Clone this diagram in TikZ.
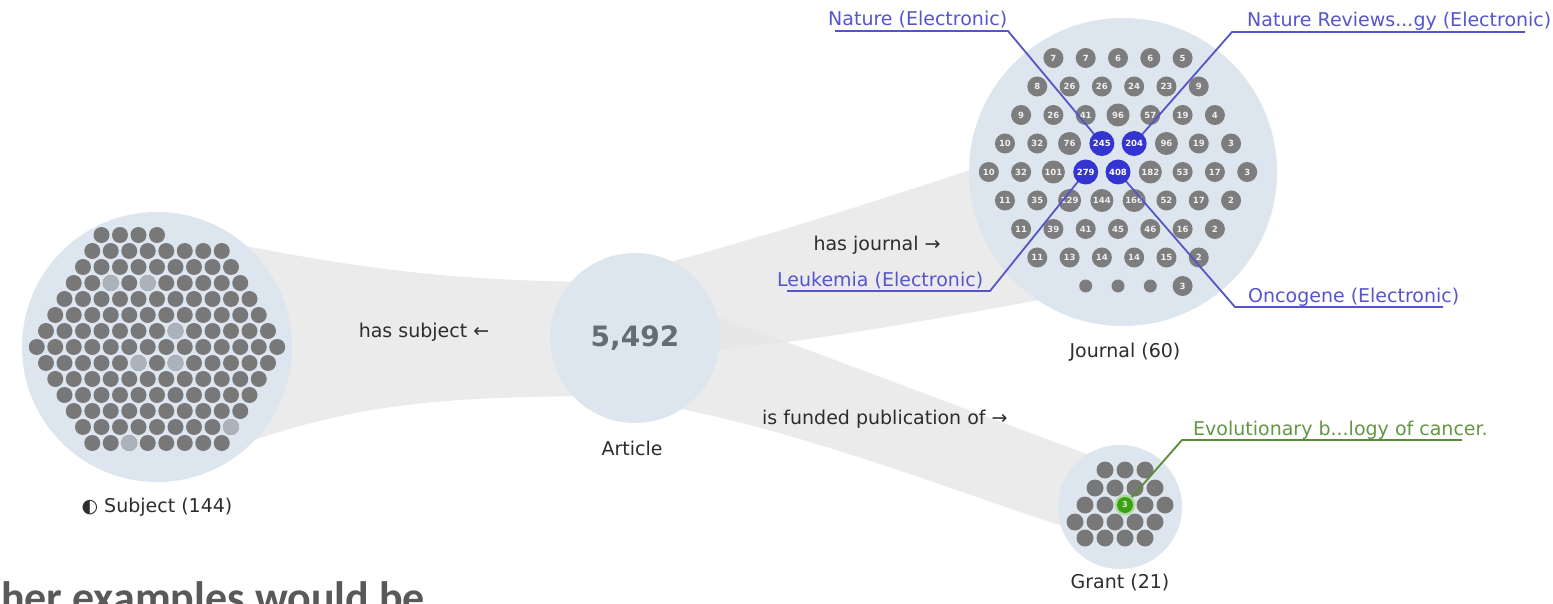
\documentclass[tikz,border=0pt]{standalone}
\usepackage{fontspec}
\setmainfont{DejaVu Sans}
\newfontfamily\slidefont{Carlito}
\definecolor{band}{RGB}{231,231,231}
\definecolor{circfill}{RGB}{221,230,238}
\definecolor{sgray}{RGB}{120,120,120}
\definecolor{slight}{RGB}{172,178,186}
\definecolor{jgray}{RGB}{125,125,125}
\definecolor{jblue}{RGB}{52,52,208}
\definecolor{bline}{RGB}{85,85,200}
\definecolor{btext}{RGB}{85,85,205}
\definecolor{gdot}{RGB}{60,160,20}
\definecolor{gline}{RGB}{90,140,50}
\definecolor{gtext}{RGB}{100,150,70}
\definecolor{txtdark}{RGB}{45,45,45}
\definecolor{numgray}{RGB}{100,108,118}
\definecolor{slidegray}{RGB}{89,89,89}
\tikzset{
  lbl/.style={font=\fontsize{19}{23}\selectfont, text=txtdark, inner sep=0pt},
  bandfill/.style={fill=band, fill opacity=0.8, draw=none},
  bigcirc/.style={circle, fill=circfill, draw=none, inner sep=0pt},
  sdot/.style={circle, fill=sgray, minimum size=16pt, inner sep=0pt},
  jdot/.style={circle, fill=jgray, inner sep=0pt, text=white!88!gray, font=\fontsize{8.5}{9}\selectfont\bfseries},
  bdot/.style={circle, fill=jblue, inner sep=0pt, minimum size=25pt, text=white, font=\fontsize{8.5}{9}\selectfont\bfseries},
  gdotstyle/.style={circle, fill=sgray, minimum size=17pt, inner sep=0pt},
  bleader/.style={draw=bline, line width=1.8pt},
  gleader/.style={draw=gline, line width=1.8pt},
}
\begin{document}
\begin{tikzpicture}[x=1pt,y=-1pt]
\useasboundingbox (0,0) rectangle (1553,604);
\clip (0,0) rectangle (1553,604);
\fill[white] (0,0) rectangle (1553,604);

% bands
\fill[bandfill] (240,245) .. controls (360,268) and (450,281) .. (600,282) -- (600,396) .. controls (450,397) and (360,402) .. (240,445) -- cycle;
\fill[bandfill] (660,265) .. controls (780,232) and (880,200) .. (1000,160) -- (1040,300) .. controls (900,325) and (820,340) .. (700,352) -- cycle;
\fill[bandfill] (700,310) .. controls (850,365) and (980,415) .. (1090,455) -- (1075,530) .. controls (950,490) and (800,430) .. (660,405) -- cycle;

% big circles
\node[bigcirc, minimum size=270pt] (subj) at (157,347) {};
\node[bigcirc, minimum size=170pt, font=\bfseries\fontsize{28}{30}\selectfont, text=numgray] (art) at (635,338) {5,492};
\node[bigcirc, minimum size=308pt] (jour) at (1123,172) {};
\node[bigcirc, minimum size=124pt] (grant) at (1120,507) {};

% subject dots
\foreach \i in {1,...,14} {
  \pgfmathtruncatemacro\n{14-abs(\i-8)}
  \pgfmathtruncatemacro\kmax{\i==1 ? 4 : \n}
  \foreach \k in {1,...,\kmax} {
    \pgfmathsetmacro\xx{157+(\k-1-(\n-1)/2)*18.5}
    \pgfmathsetmacro\yy{347+(\i-8)*16}
    \node[sdot] (s\i-\k) at (\xx,\yy) {};
  }
}
\foreach \i/\k in {4/3,4/5,7/8,9/6,9/8,13/9,14/3} {
  \node[sdot, fill=slight] at (s\i-\k) {};
}

% journal dots
\foreach \r/\n/\vals in {1/5/{7,7,6,6,5}, 2/6/{8,26,26,24,23,9}, 3/7/{9,26,41,96,57,19,4}, 4/8/{10,32,76,245,204,96,19,3}, 5/9/{10,32,101,279,408,182,53,17,3}, 6/8/{11,35,129,144,166,52,17,2}, 7/7/{11,39,41,45,46,16,2}, 8/6/{11,13,14,14,15,2}} {
  \foreach \v [count=\k from 0] in \vals {
    \pgfmathsetmacro\xx{1118+(\k-(\n-1)/2)*32.3}
    \pgfmathsetmacro\yy{172+(\r-5)*28.5}
    \pgfmathsetmacro\ds{ifthenelse(\v>60,23,20)}
    \ifnum\v<200
      \node[jdot, minimum size=\ds pt] (j\r-\k) at (\xx,\yy) {\v};
    \fi
  }
}
\node[jdot, minimum size=13pt] (j9-1) at (1085.7,286) {};
\node[jdot, minimum size=13pt] (j9-2) at (1118,286) {};
\node[jdot, minimum size=13pt] (j9-3) at (1150.3,286) {};
\node[jdot, minimum size=20pt] (j9-4) at (1182.6,286) {3};

% blue dot centres
\coordinate (c245) at (1101.85,143.5);
\coordinate (c204) at (1134.15,143.5);
\coordinate (c279) at (1085.7,172);
\coordinate (c408) at (1118,172);

% blue leaders
\coordinate (natA) at (1008,31);  \coordinate (natB) at (835,31);
\coordinate (nrA) at (1232,32);   \coordinate (nrB) at (1525,32);
\coordinate (leuA) at (990,291);  \coordinate (leuB) at (787,291);
\coordinate (oncA) at (1235,307); \coordinate (oncB) at (1443,307);
\draw[bleader] (c245) -- (natA) -- (natB);
\draw[bleader] (c204) -- (nrA) -- (nrB);
\draw[bleader] (c279) -- (leuA) -- (leuB);
\draw[bleader] (c408) -- (oncA) -- (oncB);

\node[bdot] (j245) at (c245) {245};
\node[bdot] (j204) at (c204) {204};
\node[bdot] (j279) at (c279) {279};
\node[bdot] (j408) at (c408) {408};

% grant dots
\foreach \x [count=\k] in {1105,1125,1145} { \node[gdotstyle] (g1-\k) at (\x,470) {}; }
\foreach \x [count=\k] in {1095,1115,1135,1155} { \node[gdotstyle] (g2-\k) at (\x,488) {}; }
\foreach \x [count=\k] in {1085,1105,1145,1165} { \node[gdotstyle] (g3-\k) at (\x,505) {}; }
\foreach \x [count=\k] in {1075,1095,1115,1135,1155} { \node[gdotstyle] (g4-\k) at (\x,522) {}; }
\foreach \x [count=\k] in {1085,1105,1125,1145} { \node[gdotstyle] (g5-\k) at (\x,538) {}; }
\coordinate (gc) at (1125,505);
\coordinate (evA) at (1182,440); \coordinate (evB) at (1462,440);
\draw[gleader] (gc) -- (evA) -- (evB);
\node[circle, fill=gdot!40, minimum size=21pt, inner sep=0pt] (ghalo) at (gc) {};
\node[circle, fill=gdot, minimum size=16pt, inner sep=0pt, text=white!85!gdot, font=\fontsize{8}{8}\selectfont\bfseries] (gsel) at (gc) {3};

% labels
\node[lbl, text=btext, anchor=base west] (natlbl) at (828,26) {Nature (Electronic)};
\node[lbl, text=btext, anchor=base west] (nrlbl) at (1247,27) {Nature Reviews...gy (Electronic)};
\node[lbl, text=btext, anchor=base west] (leulbl) at (777,286) {Leukemia (Electronic)};
\node[lbl, text=btext, anchor=base west] (onclbl) at (1248,302) {Oncogene (Electronic)};
\node[lbl, text=gtext, anchor=base west] (evlbl) at (1193,435) {Evolutionary b...logy of cancer.};

\node[lbl] (hs) at (424,332) {has subject ←};
\node[lbl] (hj) at (877,245) {has journal →};
\node[lbl, anchor=west] (fp) at (762,419) {is funded publication of →};
\node[lbl] (artlbl) at (632,448) {Article};
\node[lbl] (jlbl) at (1125,352) {Journal (60)};
\node[lbl] (glbl) at (1120,583) {Grant (21)};
\node[lbl] (slbl) at (157,507) {◐ Subject (144)};

\node[font=\slidefont\bfseries\fontsize{44}{50}\selectfont, text=slidegray, anchor=base west, inner sep=0pt] (slide) at (1,612) {her examples would be};
\end{tikzpicture}
\end{document}
